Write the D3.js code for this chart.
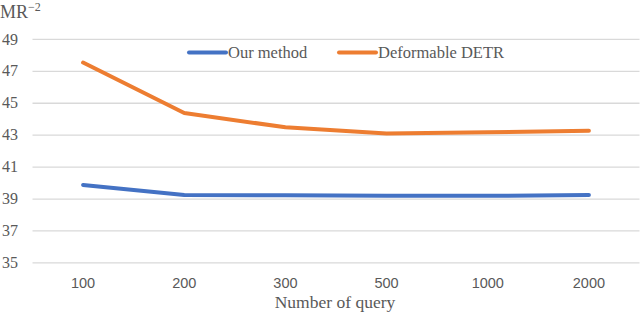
<!DOCTYPE html>
<html>
<head>
<meta charset="utf-8">
<script src="https://cdn.jsdelivr.net/npm/d3@7"></script>
<style>
html,body{margin:0;padding:0;background:#fff;}
svg{display:block;}
</style>
</head>
<body>
<svg id="chart" width="640" height="320"></svg>
<script>
const categories = ["100", "200", "300", "500", "1000", "2000"];
const ourMethod = [39.85, 39.22, 39.2, 39.17, 39.17, 39.22];
const deformableDETR = [47.52, 44.36, 43.46, 43.08, 43.15, 43.25];
const yTicks = [35, 37, 39, 41, 43, 45, 47, 49];
const seriesNames = ["Our method", "Deformable DETR"];
const seriesColors = ["#4472C4", "#ED7D31"];

const svg = d3.select("#chart");
const x = d3.scaleBand().domain(categories).range([32.5, 639.5]);
const y = d3.scaleLinear().domain([35, 49]).range([262.4, 38.9]);

// gridlines
svg.append("g")
  .attr("transform", "translate(32.5,0)")
  .call(d3.axisLeft(y).tickValues(yTicks).tickSize(-607).tickFormat(""))
  .call(g => g.select(".domain").remove())
  .call(g => g.selectAll("line").attr("stroke", "#d9d9d9").attr("stroke-width", 1.3));

// y labels
svg.append("g").selectAll("text").data(yTicks).join("text")
  .attr("x", 2).attr("y", d => y(d)).attr("dy", "0.35em")
  .attr("font-family", "Liberation Serif, Times New Roman, serif")
  .attr("font-size", 16).attr("fill", "#595959")
  .text(d => d);

// x labels
svg.append("g")
  .attr("transform", "translate(0,262.4)")
  .call(d3.axisBottom(x).tickSize(0).tickPadding(15))
  .call(g => g.select(".domain").remove())
  .call(g => g.selectAll("text")
    .attr("font-family", "Liberation Sans, Arial, sans-serif")
    .attr("font-size", 14.5).attr("fill", "#595959"));

// lines
const line = d3.line().x((d, i) => x(categories[i]) + x.bandwidth() / 2).y(d => y(d));
[ourMethod, deformableDETR].forEach((s, i) => {
  svg.append("path").datum(s)
    .attr("d", line).attr("fill", "none")
    .attr("stroke", seriesColors[i]).attr("stroke-width", 4)
    .attr("stroke-linecap", "round").attr("stroke-linejoin", "round");
});

// legend
const legendX = [189, 339];
seriesNames.forEach((n, i) => {
  const g = svg.append("g").attr("transform", `translate(${legendX[i]},52.5)`);
  g.append("line").attr("x1", 0).attr("x2", 37).attr("y1", 0).attr("y2", 0)
    .attr("stroke", seriesColors[i]).attr("stroke-width", 4).attr("stroke-linecap", "round");
  g.append("text").attr("x", 39).attr("y", 0).attr("dy", "0.33em")
    .attr("font-family", "Liberation Serif, Times New Roman, serif")
    .attr("font-size", 16.5).attr("fill", "#595959").text(n);
});

// axis titles
svg.append("text").attr("x", 335).attr("y", 308).attr("text-anchor", "middle")
  .attr("font-family", "Liberation Serif, Times New Roman, serif")
  .attr("font-size", 17.5).attr("fill", "#595959").text("Number of query");

const yt = svg.append("text").attr("x", 0).attr("y", 18)
  .attr("font-family", "Liberation Serif, Times New Roman, serif")
  .attr("font-size", 18).attr("fill", "#595959");
yt.append("tspan").text("MR");
yt.append("tspan").attr("dy", -7).attr("font-size", 12).text("−2");
</script>
</body>
</html>
